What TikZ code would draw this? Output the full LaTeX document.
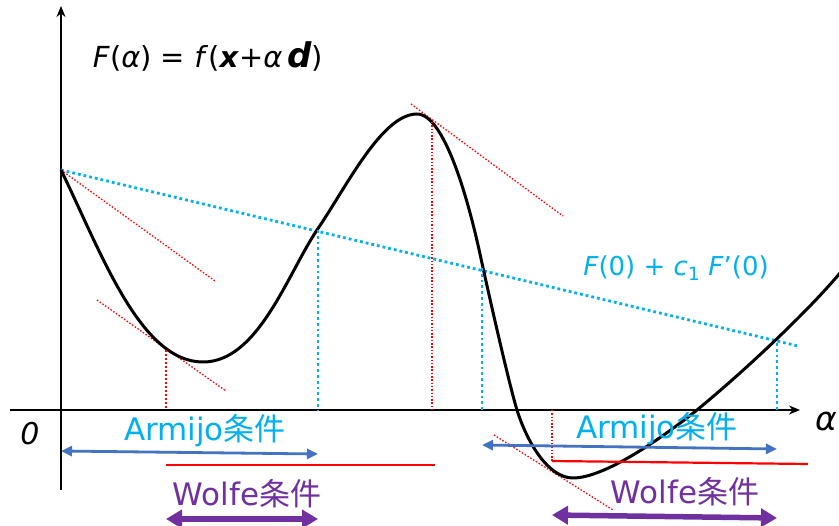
\documentclass[tikz,border=0pt]{standalone}
\usepackage{fontspec}
\setmainfont{DejaVu Sans}
\newfontfamily\jpfont{Noto Sans CJK JP}
\usetikzlibrary{arrows.meta}
\definecolor{armijo}{HTML}{00B0F0}
\definecolor{armblue}{HTML}{4472C4}
\definecolor{wolfe}{HTML}{7030A0}

\begin{document}
\begin{tikzpicture}[x=1pt, y=-1pt,
  axis/.style={line width=2.6pt, -{Stealth[length=11pt,width=9pt]}},
  curve/.style={line width=3pt, line join=round},
  tang/.style={red, line width=1.3pt, dash pattern=on 1.5pt off 1.8pt},
  drop/.style={red, line width=2pt, dash pattern=on 2pt off 2pt},
  bdot/.style={armijo, line width=2.8pt, dash pattern=on 2.8pt off 3pt},
  barr/.style={armblue, line width=2.8pt, {Triangle[length=11pt,width=10pt]}-{Triangle[length=11pt,width=10pt]}},
  parr/.style={wolfe, line width=5.5pt, {Triangle[length=16pt,width=18pt]}-{Triangle[length=16pt,width=18pt]}},
  lbl/.style={font=\fontsize{31}{36}\selectfont},
  eq/.style={font=\fontsize{29}{32}\selectfont}
]
\useasboundingbox (0,0) rectangle (839,526);

% axes
\coordinate (o) at (61,410);
\coordinate (ytop) at (61,6);
\coordinate (ybot) at (61,490);
\coordinate (xl) at (10,410);
\coordinate (xr) at (800,410);
\draw[axis] (ybot) -- (ytop);
\draw[axis] (xl) -- (xr);
\node[font=\fontsize{30}{32}\selectfont\itshape] (zero) at (30,434) {0};
\node[font=\fontsize{33}{36}\selectfont\itshape, anchor=west, inner sep=0pt] (alpha) at (815,421) {α};

% F(alpha)
\node[eq] (title) at (208,57) {\textit{F}(\textit{α}) = \textit{f}(\textbf{\textit{x}}+\textit{α}\,{\fontsize{34}{36}\selectfont\bfseries\itshape d})};

% line F(0)+c1F'(0)
\coordinate (f0) at (61,170);
\coordinate (c1end) at (798,346);
\draw[bdot] (f0) -- (c1end);
\node[font=\fontsize{26}{30}\selectfont, armijo] (c1lbl) at (676,268) {\textit{F}(0) + \textit{c}\textsubscript{1} \textit{F}’(0)};

% tangent lines
\draw[tang] (f0) -- (215,281);
\draw[tang] (97,300) -- (226,391);
\draw[tang] (411,104) -- (563,216);
\draw[tang] (494,435) -- (613,510);

% the function
\coordinate (m1) at (203,362);
\coordinate (i1) at (317,230);
\coordinate (pk0) at (417,114);
\coordinate (i2) at (480,254);
\coordinate (z1) at (517,410);
\coordinate (m2) at (573,478);
\coordinate (z2) at (697,410);
\coordinate (rend) at (840,273);
\draw[curve] (f0) .. controls (101,252) and (140,362) .. (m1)
  .. controls (258,362) and (287,275) .. (i1)
  .. controls (347,186) and (382,114) .. (pk0)
  .. controls (447,114) and (472,217) .. (i2)
  .. controls (488,291) and (509,384) .. (z1)
  .. controls (527,442) and (548,478) .. (m2)
  .. controls (603,478) and (657,442) .. (z2)
  .. controls (747,369) and (810,309) .. (rend);

% drops to the axis
\coordinate (w1) at (166,350);
\coordinate (w1b) at (166,410);
\coordinate (pk) at (432,122);
\coordinate (pkb) at (432,410);
\coordinate (w2) at (552,461);
\coordinate (w2b) at (552,410);
\draw[drop] (w1) -- (w1b);
\draw[tang] (pk) -- (pkb);
\draw[tang] (w2b) -- (w2);
\coordinate (a1) at (318,230);
\coordinate (a1b) at (318,410);
\coordinate (a2) at (482,268);
\coordinate (a2b) at (482,410);
\coordinate (a3) at (777,343);
\coordinate (a3b) at (777,410);
\draw[bdot] (a1) -- (a1b);
\draw[bdot] (a2) -- (a2b);
\draw[bdot] (a3) -- (a3b);

% curvature condition
\coordinate (r1l) at (166,465);
\coordinate (r1r) at (435,465);
\coordinate (r2l) at (552,461);
\coordinate (r2r) at (808,464);
\draw[red, line width=2.2pt] (r1l) -- (r1r);
\draw[red, line width=2.2pt] (r2l) -- (r2r);

% ranges
\coordinate (b1l) at (61,451);
\coordinate (b1r) at (318,454);
\coordinate (b2l) at (482,445);
\coordinate (b2r) at (777,449);
\draw[barr] (b1l) -- (b1r);
\draw[barr] (b2l) -- (b2r);
\node[lbl, armijo] (arm1) at (205,431) {Armijo{\jpfont 条件}};
\node[lbl, armijo] (arm2) at (657,429) {Armijo{\jpfont 条件}};

\coordinate (p1l) at (166,519);
\coordinate (p1r) at (318,519);
\coordinate (p2l) at (552,515);
\coordinate (p2r) at (777,518);
\draw[parr] (p1l) -- (p1r);
\draw[parr] (p2l) -- (p2r);
\node[lbl, wolfe] (wol1) at (247,494) {Wolfe{\jpfont 条件}};
\node[lbl, wolfe] (wol2) at (685,492) {Wolfe{\jpfont 条件}};
\end{tikzpicture}
\end{document}
